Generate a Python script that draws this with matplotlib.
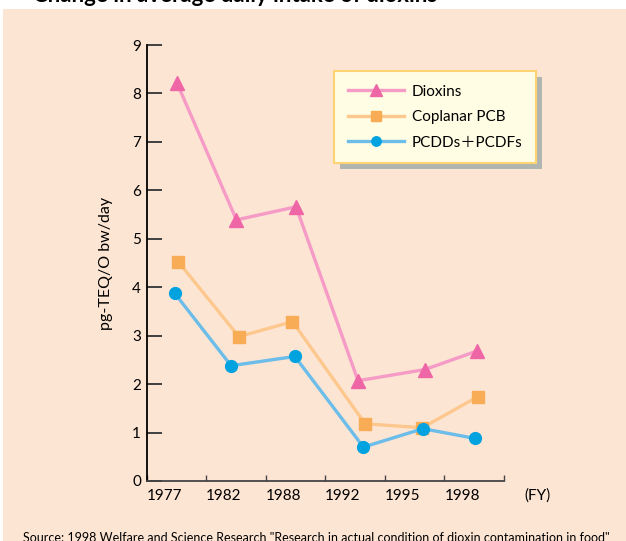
import matplotlib.pyplot as plt
from matplotlib.patches import Rectangle
from matplotlib.transforms import IdentityTransform

plt.rcParams['font.family'] = ['Lato', 'Noto Sans CJK JP', 'DejaVu Sans']

#### data ####
years = ["1977", "1982", "1988", "1992", "1995", "1998"]
# x positions are in "year slot" units per series
dioxins_x = [0.51, 1.51, 2.51, 3.55, 4.67, 5.54]
dioxins = [8.22, 5.39, 5.66, 2.07, 2.30, 2.68]
pcb_x = [0.53, 1.55, 2.45, 3.67, 4.63, 5.56]
pcb = [4.53, 2.98, 3.29, 1.18, 1.10, 1.74]
pcdd_x = [0.47, 1.42, 2.49, 3.64, 4.64, 5.51]
pcdd = [3.88, 2.38, 2.57, 0.70, 1.08, 0.88]

peach = '#FDE5D4'

fig = plt.figure(figsize=(6.26, 5.41), dpi=100, facecolor='white')
# peach panel (white strip left and top as in the scan)
fig.patches.append(Rectangle((3 / 626, 0), 1, 1 - 9 / 541, transform=fig.transFigure,
                             facecolor=peach, edgecolor='none', zorder=-5))
# title is cropped at the top edge in the original scan
fig.text(33 / 626, 1 - 2.5 / 541, "Change in average daily intake of dioxins",
         fontsize=16, fontweight='bold', ha='left', va='baseline')

ax = fig.add_axes([146.5 / 626, 60 / 541, (504 - 146.5) / 626, 436 / 541])
ax.set_facecolor('none')

ax.plot(dioxins_x, dioxins, color='#F59BC6', lw=2.4, marker='^', ms=10,
        mfc='#EE66A6', mec='#EE66A6', label='Dioxins', zorder=3)
ax.plot(pcb_x, pcb, color='#FDC88E', lw=2.4, marker='s', ms=8.5,
        mfc='#F9AC56', mec='#F9AC56', label='Coplanar PCB', zorder=3)
ax.plot(pcdd_x, pcdd, color='#6CBDE9', lw=2.4, marker='o', ms=8.5,
        mfc='#00A2E0', mec='#00A2E0', label='PCDDs\uff0bPCDFs', zorder=3)

ax.set_xlim(0, 6)
ax.set_ylim(0, 9)
ax.set_yticks(range(10))
ax.set_xticks(range(7))
ax.set_xticklabels(years + [""], ha='left')
ax.tick_params(axis='y', direction='in', length=11, width=1.3, color='#333333',
               pad=4, labelsize=11)
ax.tick_params(axis='x', direction='in', length=4.5, width=1, color='#444444',
               pad=6, labelsize=11)
ax.text(6.35, -0.3, "(FY)", fontsize=11, ha='left', va='center', clip_on=False)

for s in ['top', 'right']:
    ax.spines[s].set_visible(False)
ax.spines['left'].set_color('black')
ax.spines['left'].set_linewidth(1.3)
ax.spines['bottom'].set_color('#444444')
ax.spines['bottom'].set_linewidth(1.3)

ax.set_ylabel("pg-TEQ/O bw/day", fontsize=11.5, labelpad=14)

leg = ax.legend(loc='upper left', bbox_to_anchor=((334 - 146.5) / 357.5, 1 - 26 / 436),
                fontsize=11, frameon=True, fancybox=False, markerscale=0.8,
                handlelength=3.7, handletextpad=0.5, labelspacing=0.75,
                borderpad=0.9, borderaxespad=0)
leg.get_frame().set_facecolor('#FFFDE3')
leg.get_frame().set_edgecolor('#FDD373')
leg.get_frame().set_linewidth(1.5)
leg.get_frame().set_alpha(1)
leg.set_zorder(6)

# source line, cropped at the bottom edge in the original scan
fig.text(316 / 626, -0.5 / 541,
         'Source: 1998 Welfare and Science Research "Research in actual condition of dioxin contamination in food"',
         fontsize=9, ha='center', va='baseline')

# drop shadow behind the legend box
fig.canvas.draw()
bb = leg.get_window_extent(fig.canvas.get_renderer())
shadow = Rectangle((bb.x0 + 6, bb.y0 - 6), bb.width, bb.height, transform=IdentityTransform(),
                   facecolor='#B0B5B0', edgecolor='none', zorder=5, clip_on=False)
ax.add_artist(shadow)

fig.savefig('out.png', dpi=100, facecolor=fig.get_facecolor())
